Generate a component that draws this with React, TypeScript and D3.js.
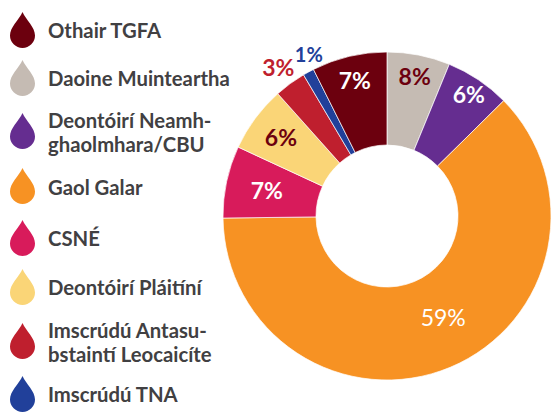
import React from "react";
import * as d3 from "d3";

// Slice order (clockwise from 12 o'clock)
const sliceNames = [
  "Daoine Muinteartha",
  "Deontóirí Neamh-ghaolmhara/CBU",
  "Gaol Galar",
  "CSNÉ",
  "Deontóirí Pláitíní",
  "Imscrúdú Antasubstaintí Leocaicíte",
  "Imscrúdú TNA",
  "Othair TGFA",
];
const sliceShares = [6.2, 6.4, 62.2, 7.1, 6.5, 3.1, 1.1, 7.4];
const sliceLabels = ["8%", "6%", "59%", "7%", "6%", "3%", "1%", "7%"];
const sliceColors = ["#c5bbb3", "#652d90", "#f79223", "#d81b5b", "#fad577", "#bf1f2e", "#21409a", "#6c000e"];
const labelColors = ["#6c000e", "#ffffff", "#ffffff", "#ffffff", "#6c000e", "#bf1f2e", "#21409a", "#ffffff"];

// Legend
const legendLines = [
  ["Othair TGFA"],
  ["Daoine Muinteartha"],
  ["Deontóirí Neamh-", "ghaolmhara/CBU"],
  ["Gaol Galar"],
  ["CSNÉ"],
  ["Deontóirí Pláitíní"],
  ["Imscrúdú Antasu-", "bstaintí Leocaicíte"],
  ["Imscrúdú TNA"],
];
const legendColors = ["#6c000e", "#c5bbb3", "#652d90", "#f79223", "#d81b5b", "#fad577", "#bf1f2e", "#21409a"];

// layout
const W = 552, H = 412;
const cx = 387, cy = 216, R = 164, r0 = 71;
const labelRadius = [143, 147, 116, 123, 132, 184, 180, 140];
const labelAngleShift = [0, 0, -0.11, 0, 0, 0, 0.05, 0];
const labelSize = [23, 23, 23, 23, 23, 23, 20, 23];
const legendBaselines = [37.5, 86, 128, 195, 246, 295, 337.5, 401.5];
const legendDropY = [30, 78, 131, 186, 238, 287, 341, 394];

const dropPath =
  "M0,-18 C3.5,-10 12.5,-3 12.5,5.5 A12.5,12.5 0 0 1 -12.5,5.5 C-12.5,-3 -3.5,-10 0,-18 Z";

export default function App() {
  const pie = d3.pie<number>().sort(null).value((d) => d);
  const arcs = pie(sliceShares);
  const arc = d3.arc<d3.PieArcDatum<number>>().innerRadius(r0).outerRadius(R);
  const font = "Lato, 'Open Sans', sans-serif";

  return (
    <svg
      width={W}
      height={H}
      style={{ position: "absolute", left: 0, top: 0, background: "#fff" }}
    >
      <g transform={`translate(${cx},${cy})`}>
        {arcs.map((a, i) => (
          <path key={i} d={arc(a) || ""} fill={sliceColors[i]} stroke="#fff" strokeWidth={0.7} />
        ))}
        {arcs.map((a, i) => {
          const ang = (a.startAngle + a.endAngle) / 2 + labelAngleShift[i];
          const x = Math.sin(ang) * labelRadius[i];
          const y = -Math.cos(ang) * labelRadius[i];
          return (
            <text
              key={"l" + i}
              x={x}
              y={y}
              textAnchor="middle"
              dominantBaseline="central"
              fill={labelColors[i]}
              fontFamily={font}
              fontWeight={i === 2 ? 400 : 700}
              fontSize={labelSize[i]}
            >
              {sliceLabels[i]}
            </text>
          );
        })}
      </g>
      <g>
        {legendLines.map((lines, i) => (
          <g key={"lg" + i}>
            <path d={dropPath} transform={`translate(22.5,${legendDropY[i]})`} fill={legendColors[i]} />
            {lines.map((t, j) => (
              <text
                key={j}
                x={48}
                y={legendBaselines[i] + j * 24}
                fill="#414042"
                fontFamily={font}
                fontWeight={700}
                fontSize={20.3}
              >
                {t}
              </text>
            ))}
          </g>
        ))}
      </g>
    </svg>
  );
}
